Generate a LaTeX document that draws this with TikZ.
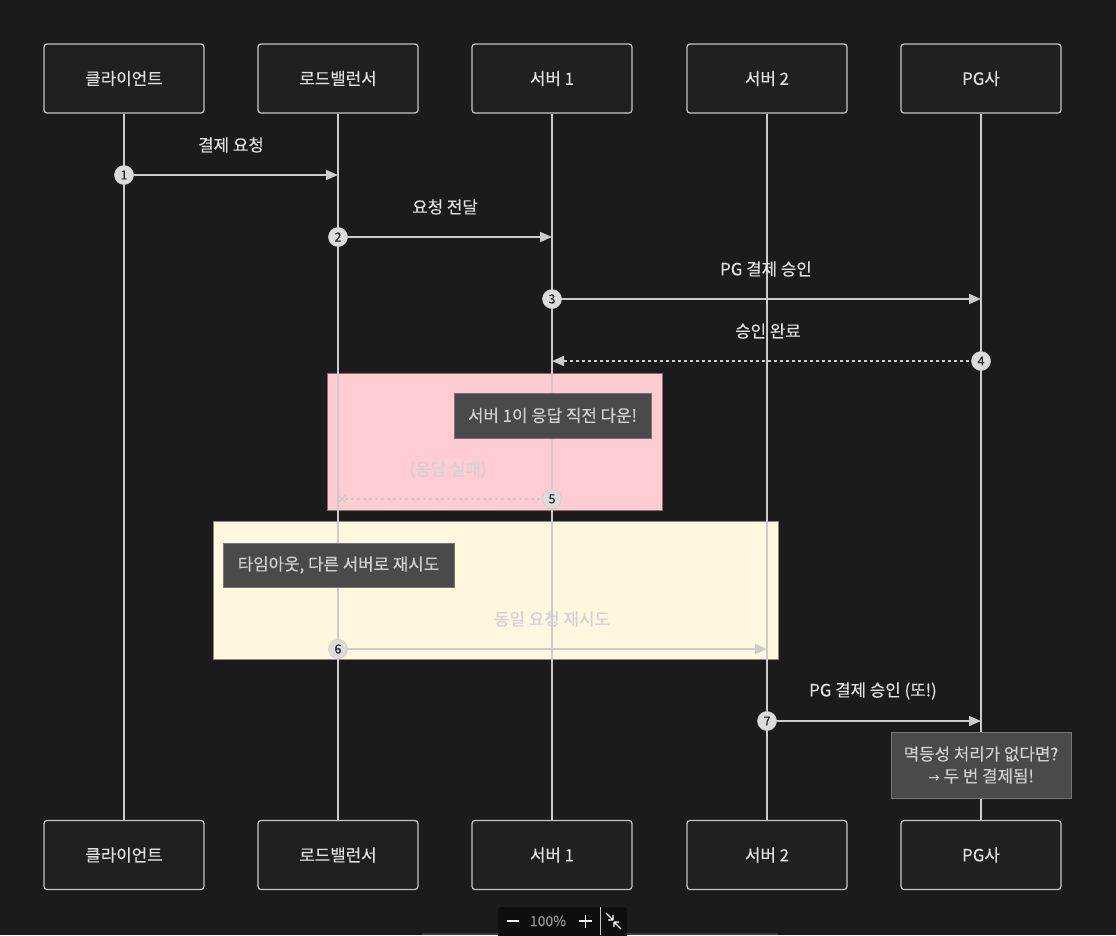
\documentclass[tikz,border=0pt]{standalone}
\usepackage{fontspec}
\setmainfont[FakeBold=0.3]{Noto Sans CJK KR}
\newfontfamily\symfont{DejaVu Sans}
\usetikzlibrary{arrows.meta,calc}
\definecolor{bgc}{HTML}{1B1B1B}
\definecolor{boxf}{HTML}{1F2121}
\definecolor{boxd}{HTML}{C4C4C4}
\definecolor{linec}{HTML}{CCCCCC}
\definecolor{txtc}{HTML}{E0E0E0}
\definecolor{pinkf}{HTML}{FFCCD3}
\definecolor{pinkd}{HTML}{8C6A70}
\definecolor{yelf}{HTML}{FFF8DE}
\definecolor{yeld}{HTML}{8A8A80}
\definecolor{notef}{HTML}{494A49}
\definecolor{noted}{HTML}{767676}
\definecolor{notet}{HTML}{D0D0D0}
\definecolor{faint}{HTML}{D2D2D2}
\definecolor{circf}{HTML}{DCDCDC}
\definecolor{tbar}{HTML}{0E0E0E}
\definecolor{sbar}{HTML}{3A3A36}
\tikzset{
  actor/.style={draw=boxd, fill=boxf, line width=1.2pt, rounded corners=3pt,
    minimum width=160pt, minimum height=69pt, text=txtc, font=\fontsize{16.8}{20}\selectfont, inner sep=0pt},
  life/.style={draw=linec, line width=1.8pt},
  msg/.style={draw=linec, line width=1.6pt, -{Triangle[length=12pt,width=10pt]}},
  dmsg/.style={msg, dash pattern=on 3pt off 3pt},
  mlabel/.style={text=txtc, font=\fontsize{16.8}{20}\selectfont, inner sep=0pt},
  flabel/.style={text=faint, font=\fontsize{16.8}{20}\selectfont, inner sep=0pt},
  num/.style={circle, fill=circf, draw=linec, line width=0.6pt, minimum size=19pt, inner sep=0pt,
    text=black!85, font=\fontsize{12.5}{14}\selectfont},
  note/.style={draw=noted, fill=notef, line width=1pt, text=notet, font=\fontsize{16.8}{22}\selectfont,
    inner sep=0pt, align=center},
  tbtext/.style={inner sep=0pt},
  tbicon/.style={white!90, line width=1.3pt},
}
\newcommand{\lowr}[1]{\raisebox{-1.5pt}{#1}}
\begin{document}
\begin{tikzpicture}[x=1pt,y=-1pt]
\fill[bgc] (0,0) rectangle (1116,935);
\useasboundingbox (0,0) rectangle (1116,935);
% group boxes
\draw[fill=pinkf, draw=pinkd, line width=1pt] (327,373) rectangle (662,510);
\draw[fill=yelf, draw=yeld, line width=1pt] (213,521) rectangle (778,659);
% actors
\foreach \n/\x/\t in {c/124/클라이언트, l/338/로드밸런서, s1/552/서버 1, s2/767/서버 2, pg/981/PG사}{
  \node[actor] (\n top) at (\x,78.5) {\lowr{\t}};
  \node[actor] (\n bot) at (\x,855) {\lowr{\t}};
  \draw[life] (\n top.south) -- (\n bot.north);
}
% notes
\node[note, minimum width=197pt, minimum height=45pt] (n1) at (552.5,415.5) {서버 1이 응답 직전 다운!};
\node[note, minimum width=231pt, minimum height=44pt] (n2) at (338.5,565) {타임아웃, 다른 서버로 재시도};
\node[note, minimum width=180pt, minimum height=66pt] (n3) at (981,765) {멱등성 처리가 없다면?\\{\symfont\fontsize{14}{22}\selectfont →} 두 번 결제됨!};
% message coordinates
\coordinate (a1) at (124,175); \coordinate (b1) at (338,175);
\coordinate (a2) at (338,237); \coordinate (b2) at (552,237);
\coordinate (a3) at (552,299); \coordinate (b3) at (981,299);
\coordinate (a4) at (981,361); \coordinate (b4) at (552,361);
\coordinate (a5) at (552,499); \coordinate (b5) at (342,499);
\coordinate (a6) at (338,649); \coordinate (b6) at (767,649);
\coordinate (a7) at (767,721); \coordinate (b7) at (981,721);
% messages
\draw[msg] (a1) -- (b1);
\draw[msg] (a2) -- (b2);
\draw[msg] (a3) -- (b3);
\draw[dmsg] (a4) -- (b4);
\draw[linec, line width=1.4pt, dash pattern=on 3pt off 3pt] (a5) -- (b5);
\draw[linec, line width=1.6pt] ($(b5)+(-4,-4)$) -- ($(b5)+(4,4)$) ($(b5)+(-4,4)$) -- ($(b5)+(4,-4)$);
\draw[msg] (a6) -- (b6);
\draw[msg] (a7) -- (b7);
% labels
\node[mlabel] (l1) at (231,145) {결제 요청};
\node[mlabel] (l2) at (445,207) {요청 전달};
\node[mlabel] (l3) at (766,269) {PG 결제 승인};
\node[mlabel] (l4) at (768,331) {승인 완료};
\node[flabel] (l5) at (448,470) {(응답 실패)};
\node[flabel] (l6) at (552,619) {동일 요청 재시도};
\node[mlabel] (l7) at (873,691) {PG 결제 승인 (또!)};
% numbers
\node[num] (k1) at (a1) {1};
\node[num] (k2) at (a2) {2};
\node[num] (k3) at (a3) {3};
\node[num] (k4) at (a4) {4};
\node[num] (k5) at (a5) {5};
\node[num] (k6) at (a6) {6};
\node[num] (k7) at (a7) {7};
% scrollbar and toolbar
\fill[sbar] (422,933) rectangle (778,935);
\fill[tbar, rounded corners=3pt] (498,907) rectangle (627,940);
\draw[gray!45, line width=0.8pt] (600,907) -- (600,935);
\draw[tbicon, line width=1.4pt] (507,921) -- (519,921);
\node[tbtext, text=gray!85, font=\fontsize{14}{16}\selectfont] (tp) at (548,921) {100\%};
\draw[tbicon, line width=1.4pt] (579,921) -- (592,921) (585.5,914.5) -- (585.5,927.5);
\draw[tbicon] (606,913) -- (613,920) (613,920) -- (608,920) (613,920) -- (613,915);
\draw[tbicon] (621,929) -- (614,922) (614,922) -- (619,922) (614,922) -- (614,927);
\end{tikzpicture}
\end{document}
